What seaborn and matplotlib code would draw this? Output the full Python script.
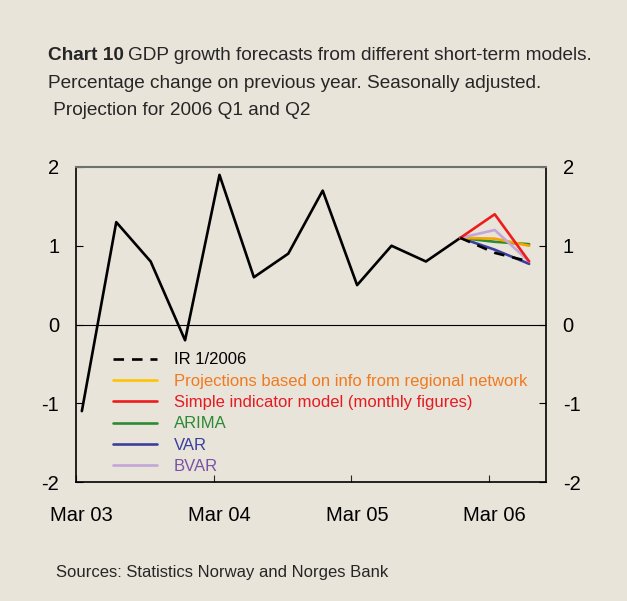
import pandas as pd
import matplotlib
matplotlib.use('Agg')
import matplotlib.pyplot as plt
import seaborn as sns

# Quarterly GDP growth, percentage change on previous year
quarters = ['Mar 03', 'Jun 03', 'Sep 03', 'Dec 03', 'Mar 04', 'Jun 04', 'Sep 04',
            'Dec 04', 'Mar 05', 'Jun 05', 'Sep 05', 'Dec 05', 'Mar 06', 'Jun 06']
gdp = [-1.1, 1.3, 0.8, -0.2, 1.9, 0.6, 0.9, 1.7, 0.5, 1.0, 0.8, 1.1]

# Projections (from Dec 05 to Jun 06)
proj_quarters = ['Dec 05', 'Mar 06', 'Jun 06']
ir_2006 = [1.1, 0.91, 0.80]
regional = [1.1, 1.09, 1.00]
indicator = [1.1, 1.40, 0.80]
arima = [1.1, 1.05, 1.02]
var = [1.1, 0.95, 0.77]
bvar = [1.1, 1.20, 0.80]

tick_labels = ['Mar 03', 'Mar 04', 'Mar 05', 'Mar 06']

bg = '#E9E4DA'
sns.set_theme(style='white')
plt.rcParams['font.family'] = ['Liberation Sans', 'DejaVu Sans']

fig = plt.figure(figsize=(6.27, 6.01), dpi=100, facecolor=bg)
ax = fig.add_axes([76/627, 1-482/601, (546-76)/627, (482-167)/601])
ax.set_facecolor(bg)

pos = {q: i for i, q in enumerate(quarters)}
hist = pd.DataFrame({'x': [pos[q] for q in quarters[:len(gdp)]], 'gdp': gdp})
sns.lineplot(data=hist, x='x', y='gdp', color='black', lw=1.9, ax=ax)

px = [pos[q] for q in proj_quarters]
series = [
    ('VAR', var, '#3B3F9E', '#3B3F9E', ''),
    ('ARIMA', arima, '#2C8A34', '#2C8A34', ''),
    ('Projections based on info from regional network', regional, '#F5A500', '#F07A1E', ''),
    ('BVAR', bvar, '#C3A5D6', '#7A52A6', ''),
    ('Simple indicator model (monthly figures)', indicator, '#EE1C1C', '#E41B23', ''),
    ('IR 1/2006', ir_2006, 'black', 'black', (4, 3)),
]
handles = {}
text_col = {}
for name, vals, col, tcol, dash in series:
    sns.lineplot(x=px, y=vals, color=col, lw=1.9, ax=ax, label=name)
    line = ax.get_lines()[-1]
    if dash:
        line.set_dashes(dash)
    handles[name] = line
    text_col[name] = tcol

ax.axhline(0, color='black', lw=0.8)

ax.set_xlim(-0.17, 13.49)
ax.set_ylim(-2, 2)
ax.set_yticks([-2, -1, 0, 1, 2])
ax.set_yticklabels(['-2', '-1', '0', '1', '2'])
ax.set_xticks([pos[t] for t in tick_labels])
ax.set_xticklabels(tick_labels)
ax.set_xticks([pos[t] - 0.17 for t in tick_labels], minor=True)
ax.tick_params(axis='x', which='major', length=0, pad=17, labelsize=14.5, colors='black')
ax.tick_params(axis='x', which='minor', direction='in', length=5, width=0.8, bottom=True)
ax.tick_params(axis='y', direction='in', length=5, width=0.8, left=True, right=True,
               labelleft=True, labelright=True, pad=12, labelsize=14.5, colors='black')
ax.set_xlabel('')
ax.set_ylabel('')
for s in ['left', 'right', 'bottom']:
    ax.spines[s].set_color('black')
    ax.spines[s].set_linewidth(1.2)
ax.spines['top'].set_color('#707070')
ax.spines['top'].set_linewidth(1.5)

order = ['IR 1/2006', 'Projections based on info from regional network',
         'Simple indicator model (monthly figures)', 'ARIMA', 'VAR', 'BVAR']
leg = ax.legend([handles[n] for n in order], order, loc='lower left',
                bbox_to_anchor=(0.054, -0.012), frameon=False, fontsize=12,
                handlelength=2.64, handletextpad=1.0, labelspacing=0.38,
                borderaxespad=0.3)
for txt, n in zip(leg.get_texts(), order):
    txt.set_color(text_col[n])
leg.legend_handles[1].set_color('#FFC400')

# Title
fs = 13.7
t1 = fig.text(48/627, 1-60/601, 'Chart 10', fontsize=fs, fontweight='bold', va='baseline')
r = fig.canvas.get_renderer()
bb = t1.get_window_extent(r)
fig.text((bb.x1 + 4)/627, 1-60/601, 'GDP growth forecasts from different short-term models.',
         fontsize=fs, va='baseline')
fig.text(48/627, 1-88/601, 'Percentage change on previous year. Seasonally adjusted.',
         fontsize=fs, va='baseline')
fig.text(48/627, 1-115/601, ' Projection for 2006 Q1 and Q2', fontsize=fs, va='baseline')

fig.text(56/627, 1-572/601, 'Sources: Statistics Norway and Norges Bank', fontsize=12,
         va='center')

fig.savefig('out.png', dpi=100, facecolor=bg)
